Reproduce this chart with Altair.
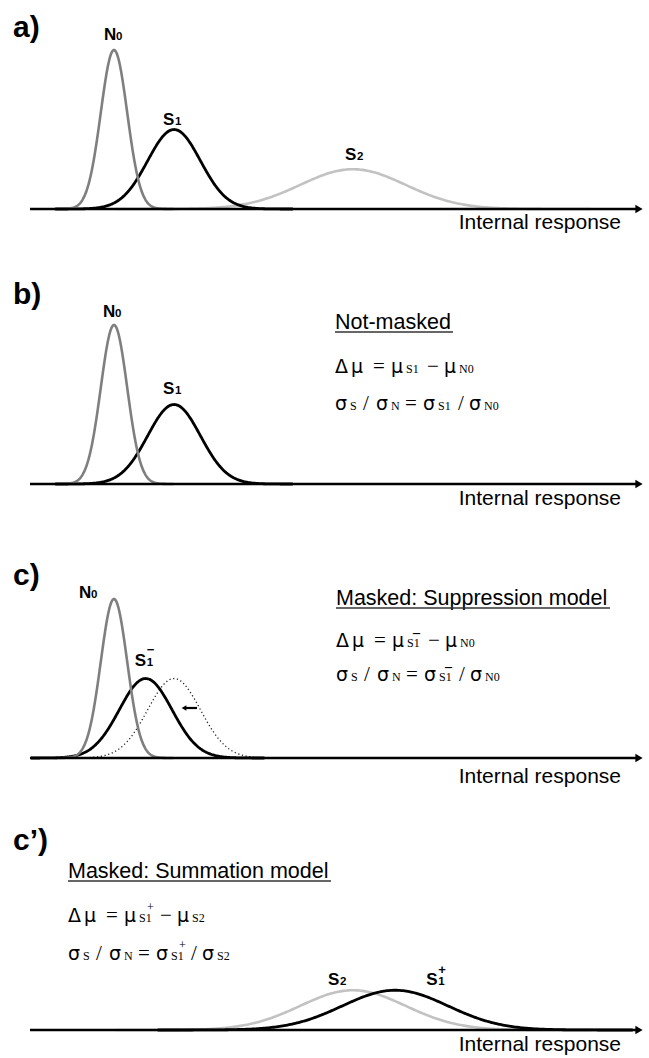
import math
import altair as alt
import numpy as np
import pandas as pd

# ---------------- data ----------------
# internal-response units: N0 has mean 0 and sd 1 (equal-area normal densities)
panels = ["a", "b", "c", "c'"]
panel_letters = ["a)", "b)", "c)", "c\u2019)"]

curve_panel = ["a", "a", "a", "b", "b", "c", "c", "c", "c'", "c'"]
curve_name = ["S2", "S1", "N0", "S1", "N0", "S1 unmasked", "S1-", "N0", "S2", "S1+"]
curve_mean = [18.1, 4.55, 0.0, 4.55, 0.0, 4.55, 2.4, 0.0, 18.1, 21.3]
curve_sd = [4.0, 2.0, 1.0, 2.0, 1.0, 2.0, 2.0, 1.0, 4.0, 4.0]

axis_title = "Internal response"
panel_heading = {"b": "Not-masked", "c": "Masked: Suppression model", "c'": "Masked: Summation model"}
formula_subs = {"b": ("S1", "N0"), "c": ("S1", "N0"), "c'": ("S1", "S2")}
formula_mark = {"b": "", "c": "\u00af", "c'": "+"}

# curve labels: panel, curve, text piece, kind
label_panel = ["a", "a", "a", "a", "a", "a", "b", "b", "b", "b", "c", "c", "c", "c", "c", "c'", "c'", "c'", "c'", "c'"]
label_curve = ["N0", "N0", "S1", "S1", "S2", "S2", "N0", "N0", "S1", "S1", "N0", "N0", "S1-", "S1-", "S1-",
               "S2", "S2", "S1+", "S1+", "S1+"]
label_text = ["N", "0", "S", "1", "S", "2", "N", "0", "S", "1", "N", "0", "S", "1", "\u2212", "S", "2", "S", "1", "+"]
label_kind = ["main", "sub", "main", "sub", "main", "sub", "main", "sub", "main", "sub", "main", "sub",
              "main", "sub", "sup", "main", "sub", "main", "sub", "sup"]

# ---------------- layout / style ----------------
W = 649
PANEL_H = [265, 270, 265, 258]
BASE = [209, 219, 223, 230]          # axis position in each panel (px from panel top)
X0PX, PPX = 114.0, 13.2              # px of x=0, px per x unit
PPY = 398.5                          # px per density unit
XDOM = [(0 - X0PX) / PPX, (W - X0PX) / PPX]


def xd(px):
    return (px - X0PX) / PPX


SANS = "Liberation Sans, Arial, Helvetica, sans-serif"
SERIF = "Liberation Serif, Times New Roman, serif"
GREEK = "DejaVu Sans"

style = {
    "N0": dict(color="#7f7f7f", strokeWidth=2.6),
    "S1": dict(color="#000000", strokeWidth=2.8),
    "S1-": dict(color="#000000", strokeWidth=2.8),
    "S1+": dict(color="#000000", strokeWidth=2.8),
    "S2": dict(color="#c2c2c2", strokeWidth=2.6),
    "S1 unmasked": dict(color="#222222", strokeWidth=1.3, strokeDash=[1.2, 2.6]),
}

label_offsets = {  # (dx, dy) of each label piece relative to the curve peak
    "a": [(-10, -10), (2, -10), (-11, -5), (1, -5), (-8, -9), (4, -9)],
    "b": [(-11, -8), (1, -8), (-11, -11), (1, -11)],
    "c": [(-35, -1), (-23, -1), (-11, -13), (1, -13), (1, -25)],
    "c'": [(-25, -5), (-13, -5), (31, -5), (43, -5), (43, -16)],
}
label_size = {"main": 17, "sub": 11.5, "sup": 13}

letter_base = [37, 39, 50, 50]
ir_base = [229, 240, 248, 251]
heading_pos = {"b": (335, 64, 453), "c": (336, 70, 610), "c'": (68, 78, 331)}
rows_base = {"b": (108, 145), "c": (112, 146), "c'": (122, 160)}

ONE = pd.DataFrame({"k": [0]})


def text_at(px, py, s, size, font=SANS, weight="normal", align="left", color="black"):
    return alt.Chart(ONE).mark_text(
        text=s, fontSize=size, font=font, fontWeight=weight, align=align,
        baseline="alphabetic", color=color
    ).encode(x=alt.value(px), y=alt.value(py))


def formula_layers(p):
    x0 = heading_pos[p][0]
    r1, r2 = rows_base[p]
    s1, s2 = formula_subs[p]
    mk = formula_mark[p]
    G, O, S = 19, 21, 12   # greek, operators, subscripts
    out = []
    row1 = [("\u0394", 0, G, GREEK), ("\u03bc", 16, G, GREEK), ("=", 38, O, SERIF), ("\u03bc", 56, G, GREEK),
            (s1, 71, S, SERIF), ("\u2212", 92, O, SERIF), ("\u03bc", 109, G, GREEK), (s2, 124, S, SERIF)]
    row2 = [("\u03c3", 0, G, GREEK), ("S", 15, S, SERIF), ("/", 28, O, SERIF), ("\u03c3", 41, G, GREEK),
            ("N", 56, S, SERIF), ("=", 70, O, SERIF), ("\u03c3", 88, G, GREEK), (s1, 103, S, SERIF),
            ("/", 123, O, SERIF), ("\u03c3", 134, G, GREEK), (s2, 149, S, SERIF)]
    for t, dx, sz, f in row1:
        out.append(text_at(x0 + dx, r1, t, sz, f))
    for t, dx, sz, f in row2:
        out.append(text_at(x0 + dx, r2, t, sz, f))
    if mk == "\u00af":
        out.append(text_at(x0 + 77, r1 - 3, mk, 14, SERIF, weight="bold"))
        out.append(text_at(x0 + 109, r2 - 3, mk, 14, SERIF, weight="bold"))
    elif mk == "+":
        out.append(text_at(x0 + 79, r1 - 11, mk, 12, SERIF))
        out.append(text_at(x0 + 111, r2 - 11, mk, 12, SERIF))
    return out


def build_panel(i, p):
    H, base = PANEL_H[i], BASE[i]
    xs = alt.Scale(domain=XDOM, nice=False, zero=False)
    ys = alt.Scale(domain=[(base - H) / PPY, base / PPY], nice=False, zero=False)
    X = alt.X("x:Q", scale=xs, axis=None)
    Y = alt.Y("y:Q", scale=ys, axis=None)
    layers = []
    peaks = {}
    # curves
    for cp, nm, mu, sd in zip(curve_panel, curve_name, curve_mean, curve_sd):
        if cp != p:
            continue
        lo = max(mu - 4.5 * sd, xd(31))
        hi = min(mu + 4.5 * sd, xd(636))
        xg = np.linspace(lo, hi, 301)
        yg = np.exp(-0.5 * ((xg - mu) / sd) ** 2) / (sd * math.sqrt(2 * math.pi))
        df = pd.DataFrame({"x": xg, "y": yg})
        peaks[nm] = (mu, 1 / (sd * math.sqrt(2 * math.pi)))
        layers.append(alt.Chart(df).mark_line(**style[nm]).encode(x=X, y=Y))
    # axis with arrow head
    layers.append(alt.Chart(pd.DataFrame({"x": [xd(30)], "x2": [xd(638)], "y": [0.0]}))
                  .mark_rule(color="black", strokeWidth=2.6)
                  .encode(x=X, x2="x2:Q", y=Y))
    layers.append(alt.Chart(pd.DataFrame({"x": [xd(639)], "y": [0.0]}))
                  .mark_point(shape="triangle-right", size=70, filled=True, color="black", opacity=1)
                  .encode(x=X, y=Y))
    # curve labels
    offs = label_offsets[p]
    j = 0
    for lp, lc, lt, lk in zip(label_panel, label_curve, label_text, label_kind):
        if lp != p:
            continue
        dx, dy = offs[j]
        j += 1
        mu, pk = peaks[lc]
        layers.append(alt.Chart(pd.DataFrame({"x": [mu], "y": [pk]})).mark_text(
            text=lt, fontSize=label_size[lk], font=SANS, fontWeight="bold", align="left",
            baseline="alphabetic", dx=dx, dy=dy, color="black").encode(x=X, y=Y))
    # arrow in panel c (shift of S1 to S1-)
    if p == "c":
        ya = (base - 173) / PPY
        layers.append(alt.Chart(pd.DataFrame({"x": [xd(186)], "x2": [xd(197)], "y": [ya]}))
                      .mark_rule(color="black", strokeWidth=2.2).encode(x=X, x2="x2:Q", y=Y))
        layers.append(alt.Chart(pd.DataFrame({"x": [xd(184)], "y": [ya]}))
                      .mark_point(shape="triangle-left", size=30, filled=True, color="black", opacity=1)
                      .encode(x=X, y=Y))
    # panel letter and axis title
    layers.append(text_at(13, letter_base[i], panel_letters[i], 30, SANS, weight="bold"))
    layers.append(text_at(621, ir_base[i], axis_title, 21, SANS, align="right"))
    # heading + formulas
    if p in panel_heading:
        hx, hy, hx2 = heading_pos[p]
        layers.append(text_at(hx, hy, panel_heading[p], 21.5, SANS))
        layers.append(alt.Chart(ONE).mark_rule(color="#333333", strokeWidth=1.3)
                      .encode(x=alt.value(hx), x2=alt.value(hx2), y=alt.value(hy + 3)))
        layers.extend(formula_layers(p))
    return alt.layer(*layers).properties(width=W, height=H)


charts = [build_panel(i, p) for i, p in enumerate(panels)]
chart = (
    alt.vconcat(*charts, spacing=0)
    .resolve_scale(x="independent", y="independent")
    .properties(padding=0, background="white")
    .configure_view(stroke=None)
)
chart.save("out.html", embed_options={"renderer": "svg", "actions": False})
